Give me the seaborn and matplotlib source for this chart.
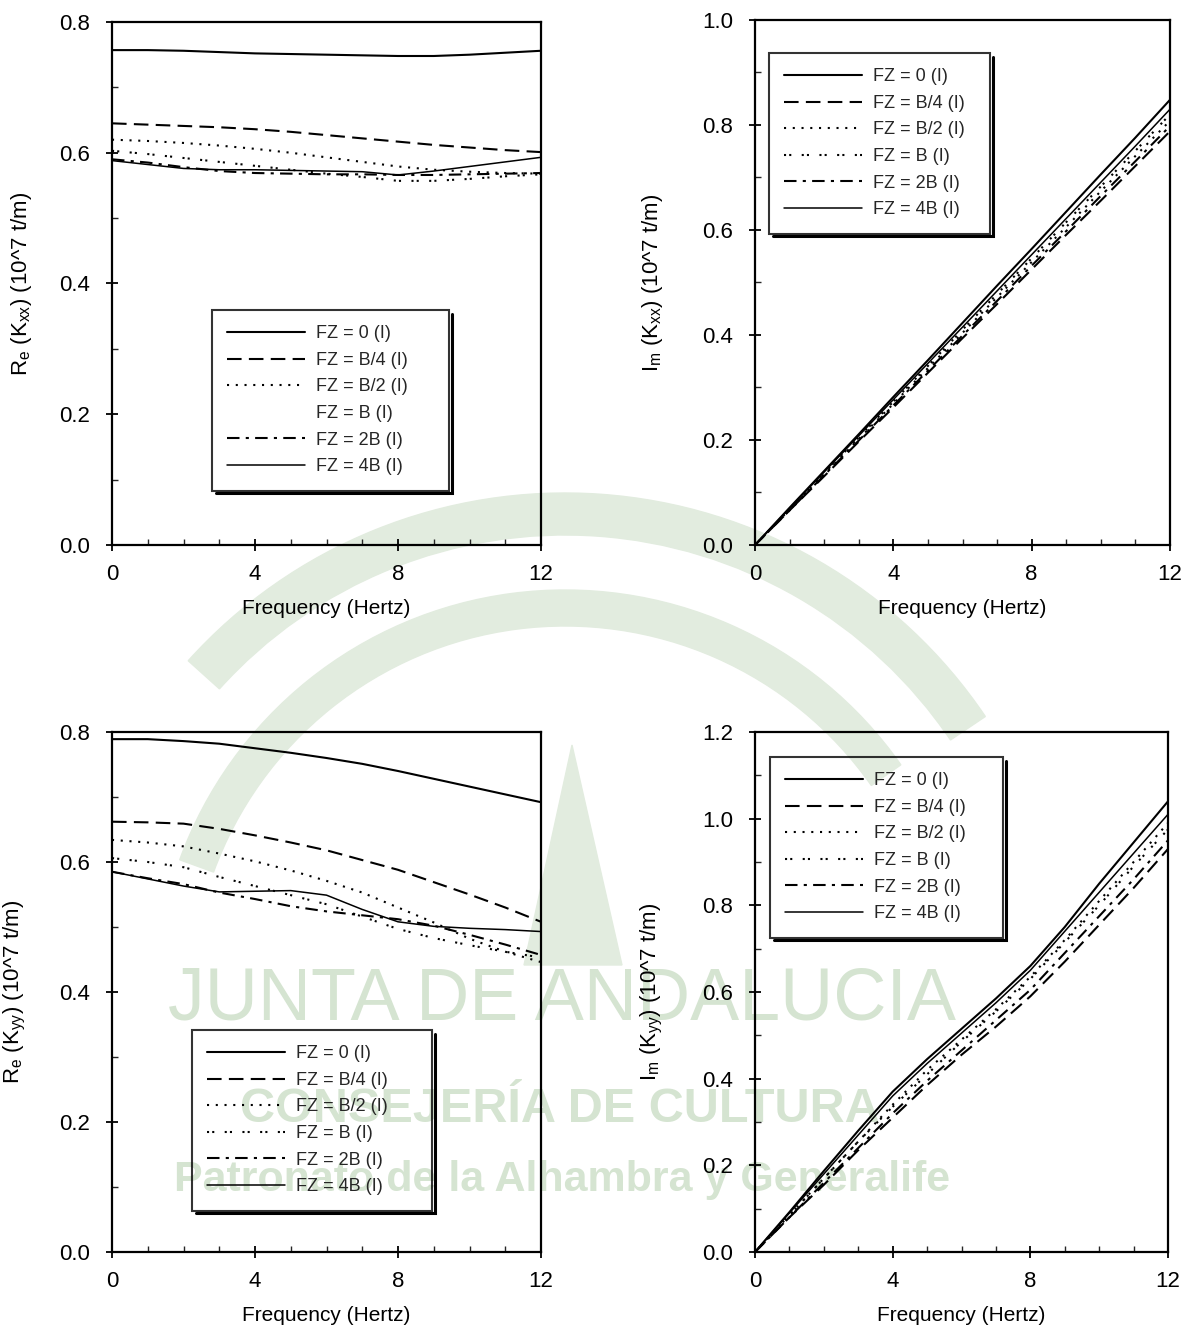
import numpy as np
import pandas as pd
import matplotlib
matplotlib.use("Agg")
import matplotlib.pyplot as plt
from matplotlib.lines import Line2D
from matplotlib import patches
from matplotlib.transforms import Affine2D, IdentityTransform
import seaborn as sns

sns.set_theme(style="white")
plt.rcParams['font.family'] = ['Liberation Sans', 'DejaVu Sans']
plt.rcParams['mathtext.fontset'] = 'custom'
plt.rcParams['mathtext.rm'] = 'Liberation Sans'
plt.rcParams['mathtext.it'] = 'Liberation Sans'

# ---------------- data ----------------
freq = [0, 1, 2, 3, 4, 5, 6, 7, 8, 9, 10, 11, 12]
series_names = ["FZ = 0 (I)", "FZ = B/4 (I)", "FZ = B/2 (I)", "FZ = B (I)", "FZ = 2B (I)", "FZ = 4B (I)"]

re_kxx_fz0 = [0.757, 0.757, 0.756, 0.754, 0.752, 0.751, 0.750, 0.749, 0.748, 0.748, 0.750, 0.753, 0.756]
re_kxx_b4 = [0.645, 0.643, 0.641, 0.639, 0.636, 0.632, 0.627, 0.622, 0.617, 0.612, 0.608, 0.604, 0.601]
re_kxx_b2 = [0.620, 0.618, 0.615, 0.611, 0.606, 0.600, 0.593, 0.586, 0.579, 0.574, 0.571, 0.569, 0.568]
re_kxx_b = [0.603, 0.598, 0.592, 0.586, 0.580, 0.574, 0.568, 0.563, 0.557, 0.557, 0.560, 0.564, 0.567]
re_kxx_2b = [0.590, 0.585, 0.578, 0.572, 0.569, 0.568, 0.567, 0.567, 0.566, 0.566, 0.567, 0.568, 0.569]
re_kxx_4b = [0.588, 0.582, 0.576, 0.574, 0.574, 0.573, 0.572, 0.571, 0.566, 0.572, 0.579, 0.586, 0.593]

im_kxx_fz0 = [0.0, 0.071, 0.141, 0.211, 0.282, 0.352, 0.423, 0.494, 0.564, 0.635, 0.706, 0.776, 0.848]
im_kxx_b4 = [0.0, 0.066, 0.131, 0.197, 0.262, 0.328, 0.394, 0.459, 0.525, 0.591, 0.656, 0.722, 0.788]
im_kxx_b2 = [0.0, 0.067, 0.135, 0.202, 0.269, 0.337, 0.404, 0.472, 0.539, 0.606, 0.674, 0.741, 0.808]
im_kxx_b = [0.0, 0.068, 0.137, 0.205, 0.273, 0.341, 0.410, 0.478, 0.546, 0.615, 0.683, 0.751, 0.820]
im_kxx_2b = [0.0, 0.066, 0.133, 0.199, 0.266, 0.332, 0.399, 0.465, 0.532, 0.598, 0.665, 0.731, 0.798]
im_kxx_4b = [0.0, 0.070, 0.139, 0.208, 0.277, 0.346, 0.415, 0.484, 0.553, 0.622, 0.691, 0.760, 0.830]

re_kyy_fz0 = [0.789, 0.789, 0.786, 0.782, 0.775, 0.768, 0.760, 0.751, 0.740, 0.728, 0.716, 0.704, 0.692]
re_kyy_b4 = [0.662, 0.661, 0.659, 0.651, 0.641, 0.630, 0.618, 0.603, 0.588, 0.569, 0.550, 0.530, 0.508]
re_kyy_b2 = [0.634, 0.630, 0.624, 0.613, 0.601, 0.587, 0.571, 0.553, 0.530, 0.507, 0.482, 0.462, 0.446]
re_kyy_b = [0.606, 0.600, 0.592, 0.577, 0.563, 0.549, 0.535, 0.516, 0.497, 0.483, 0.472, 0.462, 0.453]
re_kyy_2b = [0.585, 0.575, 0.566, 0.553, 0.543, 0.532, 0.524, 0.518, 0.512, 0.502, 0.488, 0.473, 0.457]
re_kyy_4b = [0.585, 0.574, 0.563, 0.554, 0.555, 0.556, 0.549, 0.527, 0.508, 0.501, 0.498, 0.496, 0.493]

im_kyy_fz0 = [0.0, 0.092, 0.187, 0.280, 0.370, 0.445, 0.515, 0.585, 0.660, 0.750, 0.850, 0.945, 1.040]
im_kyy_b4 = [0.0, 0.080, 0.155, 0.235, 0.310, 0.385, 0.455, 0.520, 0.590, 0.670, 0.755, 0.840, 0.930]
im_kyy_b2 = [0.0, 0.085, 0.170, 0.255, 0.340, 0.420, 0.490, 0.560, 0.635, 0.720, 0.810, 0.900, 0.990]
im_kyy_b = [0.0, 0.085, 0.170, 0.255, 0.335, 0.410, 0.485, 0.555, 0.630, 0.715, 0.800, 0.890, 0.975]
im_kyy_2b = [0.0, 0.080, 0.160, 0.240, 0.320, 0.395, 0.465, 0.535, 0.605, 0.690, 0.775, 0.860, 0.950]
im_kyy_4b = [0.0, 0.090, 0.180, 0.270, 0.360, 0.435, 0.505, 0.575, 0.650, 0.740, 0.830, 0.920, 1.010]

x_ticks = [0, 4, 8, 12]
watermark_lines = ["JUNTA DE ANDALUCIA", "CONSEJERÍA DE CULTURA", "Patronato de la Alhambra y Generalife"]

# ---------------- styles ----------------
dash_map = {
    "FZ = 0 (I)": "",
    "FZ = B/4 (I)": (7, 3.5),
    "FZ = B/2 (I)": (1, 3.2),
    "FZ = B (I)": (1, 1.5, 1, 5),
    "FZ = 2B (I)": (6, 3, 1.5, 3),
    "FZ = 4B (I)": "",
}
width_map = {"FZ = 0 (I)": 1.5, "FZ = B/4 (I)": 1.5, "FZ = B/2 (I)": 1.5,
             "FZ = B (I)": 1.5, "FZ = 2B (I)": 1.5, "FZ = 4B (I)": 1.1}


def make_df(cols):
    rows = []
    for name, vals in zip(series_names, cols):
        for f, v in zip(freq, vals):
            rows.append({"freq": f, "value": v, "FZ": name})
    return pd.DataFrame(rows)


panels = [
    dict(cols=[re_kxx_fz0, re_kxx_b4, re_kxx_b2, re_kxx_b, re_kxx_2b, re_kxx_4b],
         rect=[112, 22, 541, 545], ylim=(0, 0.8), ymaj=0.2, ylab_off=-78,
         ylabel=r"R$_{\mathrm{e}}$ (K$_{\mathrm{xx}}$) (10^7 t/m)",
         leg=(212, 310, 449), blank_b=True),
    dict(cols=[im_kxx_fz0, im_kxx_b4, im_kxx_b2, im_kxx_b, im_kxx_2b, im_kxx_4b],
         rect=[755, 20, 1170, 545], ylim=(0, 1.0), ymaj=0.2, ylab_off=-90,
         ylabel=r"I$_{\mathrm{m}}$ (K$_{\mathrm{xx}}$) (10^7 t/m)",
         leg=(769, 53, 990), blank_b=False),
    dict(cols=[re_kyy_fz0, re_kyy_b4, re_kyy_b2, re_kyy_b, re_kyy_2b, re_kyy_4b],
         rect=[112, 732, 541, 1252], ylim=(0, 0.8), ymaj=0.2, ylab_off=-84,
         ylabel=r"R$_{\mathrm{e}}$ (K$_{\mathrm{yy}}$) (10^7 t/m)",
         leg=(192, 1030, 432), blank_b=False),
    dict(cols=[im_kyy_fz0, im_kyy_b4, im_kyy_b2, im_kyy_b, im_kyy_2b, im_kyy_4b],
         rect=[755, 732, 1168, 1252], ylim=(0, 1.2), ymaj=0.2, ylab_off=-90,
         ylabel=r"I$_{\mathrm{m}}$ (K$_{\mathrm{yy}}$) (10^7 t/m)",
         leg=(770, 757, 1003), blank_b=False),
]

W, H = 1195, 1333
fig = plt.figure(figsize=(W / 100, H / 100), dpi=100)
fig.patch.set_facecolor("white")

# ---------------- watermark (scan background, drawn beneath the axes) ----------------
wm_text = "#d5e4d1"
wm_arc = "#e2ecdf"
pix = Affine2D().scale(1, -1).translate(0, H)  # pixel coords, origin top-left
fig.patches.append(patches.Wedge((565, 1000), 507, 222, 326, width=42,
                                 transform=pix, color=wm_arc, zorder=-2))
fig.patches.append(patches.Wedge((565, 1000), 410, 200, 325, width=36,
                                 transform=pix, color=wm_arc, zorder=-2))
fig.patches.append(patches.Polygon([(572, 745), (524, 965), (622, 965)], closed=True,
                                   transform=pix, color=wm_arc, zorder=-2))
fig.text(562 / W, 1 - 1000 / H, watermark_lines[0], ha="center", va="center", fontsize=53,
         color=wm_text, zorder=-1)
fig.text(560 / W, 1 - 1110 / H, watermark_lines[1], ha="center", va="center", fontsize=35,
         color=wm_text, fontweight="bold", zorder=-1)
fig.text(562 / W, 1 - 1180 / H, watermark_lines[2], ha="center", va="center", fontsize=31,
         color=wm_text, fontweight="bold", zorder=-1)

legends = []
for p in panels:
    x0, y0, x1, y1 = p["rect"]
    aw, ah = x1 - x0, y1 - y0
    ax = fig.add_axes([x0 / W, 1 - y1 / H, aw / W, ah / H])
    ax.set_facecolor("none")
    ax.set_zorder(1)
    df = make_df(p["cols"])
    for name in series_names:
        sub = df[df["FZ"] == name]
        d = dash_map[name]
        sns.lineplot(data=sub, x="freq", y="value", ax=ax, color="black",
                     lw=width_map[name], legend=False)
        line = ax.lines[-1]
        if d != "":
            line.set_dashes(d)
    ax.set_xlim(0, 12)
    ax.set_ylim(*p["ylim"])
    ax.set_xticks(x_ticks)
    ax.set_xticks(np.arange(0, 12.01, 1), minor=True)
    yt = np.arange(0, p["ylim"][1] + 1e-9, p["ymaj"])
    ax.set_yticks(yt)
    ax.set_yticklabels([f"{v:.1f}" for v in yt])
    ax.set_yticks(np.arange(0, p["ylim"][1] + 1e-9, p["ymaj"] / 2), minor=True)
    ax.tick_params(which="major", direction="inout", length=9, width=1.3, labelsize=16,
                   colors="black", bottom=True, left=True, top=False, right=False)
    ax.tick_params(axis="x", which="major", pad=9)
    ax.tick_params(axis="y", which="major", pad=11)
    ax.tick_params(which="minor", direction="in", length=4, width=1.0,
                   bottom=True, left=True, top=False, right=False)
    for s in ax.spines.values():
        s.set_color("black")
        s.set_linewidth(1.6)
    ax.set_xlabel("Frequency (Hertz)", fontsize=15, color="black", labelpad=10)
    ax.set_ylabel(p["ylabel"], fontsize=16, color="black")
    ax.yaxis.set_label_coords(p["ylab_off"] / aw, 0.5)

    handles = []
    for name in series_names:
        d = dash_map[name]
        h = Line2D([0], [0], color="black", lw=width_map[name])
        if d != "":
            h.set_dashes(d)
        handles.append(h)
    lx0, ly0, lx1 = p["leg"]
    bx = (lx0 - x0) / aw
    bw = (lx1 - lx0) / aw
    by = (y1 - ly0) / ah
    leg = ax.legend(handles, series_names, loc="upper left",
                    bbox_to_anchor=(bx, by - 0.4, bw, 0.4), mode="expand",
                    borderaxespad=0, frameon=True, fancybox=False, shadow=False,
                    fontsize=13, handlelength=4.3, handletextpad=0.6, labelspacing=0.53,
                    borderpad=0.85, edgecolor="black", facecolor="none")
    leg.get_frame().set_linewidth(1.5)
    if p["blank_b"]:
        leg.legend_handles[3].set_visible(False)
    legends.append(leg)

# drop-shadow look of the legend boxes (thick bottom/right edge)
fig.canvas.draw()
for leg in legends:
    bb = leg.get_window_extent()
    off = 2.5
    fig.lines.append(Line2D([bb.x0 + 4, bb.x1 + off, bb.x1 + off],
                            [bb.y0 - off, bb.y0 - off, bb.y1 - 4],
                            transform=IdentityTransform(), color="black", lw=2.2,
                            solid_joinstyle="miter", zorder=5))

fig.savefig("out.png", dpi=100, facecolor="white")
